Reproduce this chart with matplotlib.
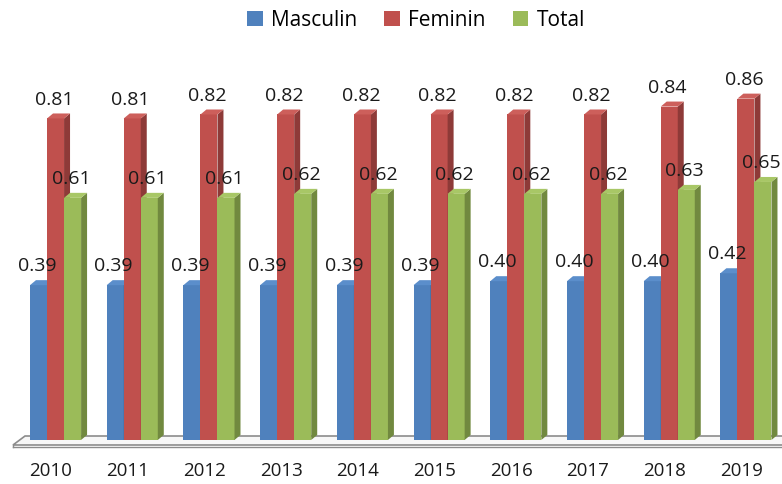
import matplotlib.pyplot as plt
import numpy as np
from matplotlib.patches import Polygon

years = ['2010', '2011', '2012', '2013', '2014', '2015', '2016', '2017', '2018', '2019']
masculin = [0.39, 0.39, 0.39, 0.39, 0.39, 0.39, 0.40, 0.40, 0.40, 0.42]
feminin = [0.81, 0.81, 0.82, 0.82, 0.82, 0.82, 0.82, 0.82, 0.84, 0.86]
total = [0.61, 0.61, 0.61, 0.62, 0.62, 0.62, 0.62, 0.62, 0.63, 0.65]
series = ['Masculin', 'Feminin', 'Total']

front = ['#4F81BD', '#C0504D', '#9BBB59']
side = ['#3A6190', '#8E3A38', '#71893F']
top = ['#5B8ECB', '#CD5F5B', '#A8C766']

plt.rcParams['font.family'] = ['Open Sans', 'DejaVu Sans']

fig = plt.figure(figsize=(7.82, 4.85), dpi=100)
ax = fig.add_axes([0, 0, 1, 1])
ax.set_xlim(-0.724, 9.47)
ax.set_ylim(-0.111, 1.111)
ax.axis('off')

w = 0.222
dx, dy = 0.078, 0.0126
x = np.arange(len(years))

# floor
floor = Polygon([(-0.554, -0.0126), (9.6, -0.0126), (9.6, 0.01), (-0.398, 0.01)],
                closed=True, facecolor='#f7f7f7', edgecolor='#8c8c8c', lw=1.2, zorder=1)
ax.add_patch(floor)
ax.plot([-0.554, 9.6], [-0.019, -0.019], color='#8c8c8c', lw=1.0, zorder=1)
ax.plot([-0.554, -0.554], [-0.0126, -0.019], color='#8c8c8c', lw=1.0, zorder=1)

for k, vals in enumerate([masculin, feminin, total]):
    xs = x + (k - 1) * w
    z = 2 + k
    ax.bar(xs, vals, width=w, color=front[k], zorder=z, label=series[k])
    for xi, v in zip(xs, vals):
        l, r = xi - w / 2, xi + w / 2
        ax.add_patch(Polygon([(r, 0), (r + dx, dy), (r + dx, v + dy), (r, v)],
                             closed=True, facecolor=side[k], edgecolor='none', zorder=z))
        ax.add_patch(Polygon([(l, v), (r, v), (r + dx, v + dy), (l + dx, v + dy)],
                             closed=True, facecolor=top[k], edgecolor='none', zorder=z))
        ax.text(xi - 0.02, v + 0.05, f'{v:.2f}', ha='center', va='center',
                fontsize=14, color='#1a1a1a', zorder=10)

for xi, yr in zip(x, years):
    ax.text(xi - 0.06, -0.0756, yr, ha='center', va='center', fontsize=13.5, color='#1a1a1a')

ax.legend(loc='upper center', bbox_to_anchor=(0.532, 1.0), ncol=3, frameon=False,
          fontsize=15, handlelength=0.75, handleheight=0.75, handletextpad=0.4,
          columnspacing=1.3, borderaxespad=0.1)

fig.savefig('out.png', dpi=100)
